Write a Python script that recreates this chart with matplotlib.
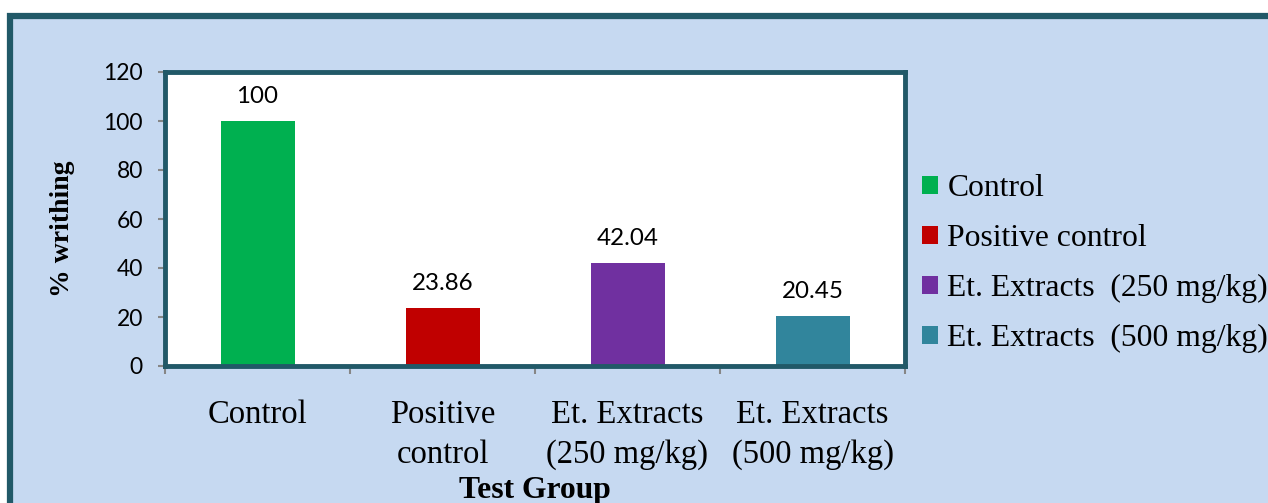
import matplotlib.pyplot as plt
from matplotlib.patches import Rectangle, Patch
import numpy as np

groups = ['Control', 'Positive\ncontrol', 'Et. Extracts\n(250 mg/kg)', 'Et. Extracts\n(500 mg/kg)']
legend_names = ['Control', 'Positive control', 'Et. Extracts  (250 mg/kg)', 'Et. Extracts  (500 mg/kg)']
writhing = [100, 23.86, 42.04, 20.45]
value_labels = ['100', '23.86', '42.04', '20.45']
colors = ['#00B050', '#C00000', '#7030A0', '#31859C']

border = '#215968'
bg = '#C6D9F1'
serif = ['Liberation Serif', 'DejaVu Serif']
sans = ['Lato', 'DejaVu Sans']

fig = plt.figure(figsize=(12.68, 5.03), dpi=100, facecolor='white')
fig.patches.append(Rectangle((10 / 1268, -0.2), 1.2, 1.2 - 16 / 503,
                             transform=fig.transFigure, facecolor=bg,
                             edgecolor=border, linewidth=4.5, zorder=-10))

ax = fig.add_axes([165 / 1268, 137 / 503, 740 / 1268, 294 / 503])
ax.set_facecolor('white')

x = np.arange(len(groups))
bars = ax.bar(x, writhing, width=0.4, color=colors, zorder=2)
for xi, v, lab in zip(x, writhing, value_labels):
    ax.annotate(lab, (xi, v), xytext=(0, 10), textcoords='offset points',
                ha='center', va='bottom', fontsize=17.4, family=sans)

ax.set_xlim(-0.5, len(groups) - 0.5)
ax.set_ylim(0, 120)
ax.set_yticks(range(0, 121, 20))
ax.tick_params(axis='y', labelsize=16.5, length=5, width=1.5, color='#868686', pad=11)
for t in ax.get_yticklabels():
    t.set_family(sans)

ax.set_xticks(x)
ax.set_xticklabels(groups, fontsize=23.5, family=serif, linespacing=1.4)
ax.tick_params(axis='x', length=0, pad=24)
ax.set_xticks(np.arange(-0.5, len(groups)), minor=True)
ax.tick_params(axis='x', which='minor', length=6, width=1.5, color='#868686')

for s in ax.spines.values():
    s.set_color(border)
    s.set_linewidth(3.5)

ax.set_ylabel('% writhing', fontsize=20, family=serif, fontweight='bold')
ax.yaxis.set_label_coords(-0.121, 0.466)
ax.set_xlabel('Test Group', fontsize=22.8, family=serif, fontweight='bold', labelpad=4)

handles = [Patch(facecolor=c) for c in colors]
fig.legend(handles, legend_names, loc='center left', bbox_to_anchor=(922 / 1268, 0.476),
           frameon=False, prop={'family': serif, 'size': 22.8},
           borderaxespad=0, borderpad=0,
           handlelength=0.5, handleheight=0.5, handletextpad=0.3, labelspacing=0.66)

fig.savefig('out.png', dpi=100, facecolor=fig.get_facecolor())
